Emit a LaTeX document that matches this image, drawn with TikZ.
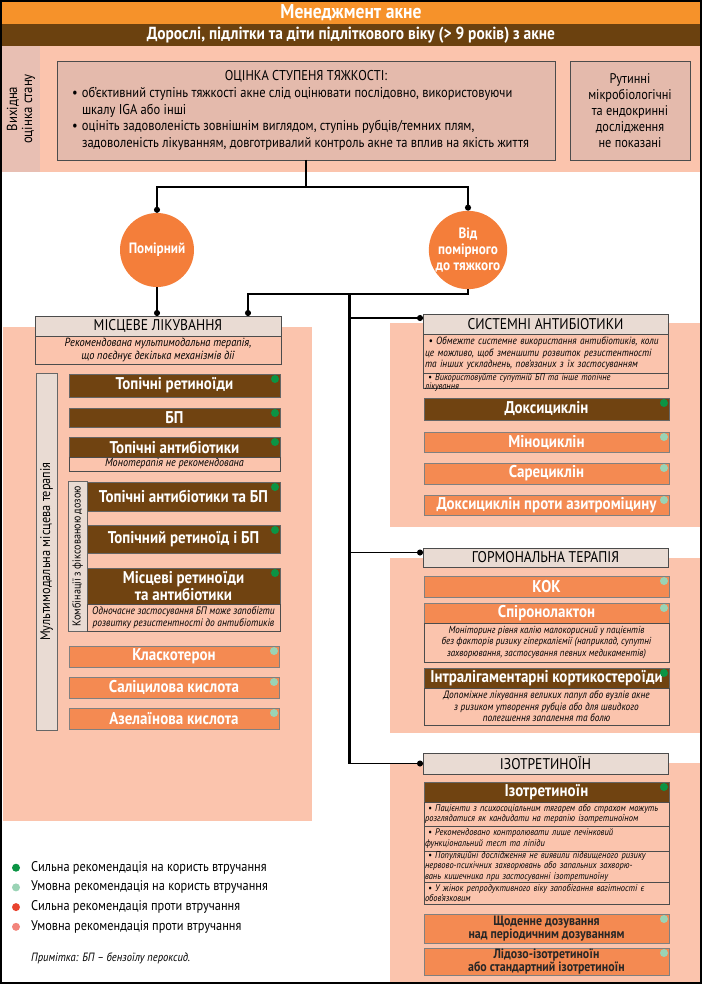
\documentclass[tikz,border=0pt]{standalone}
\usepackage{fontspec}
\setmainfont{PT Sans}[FakeStretch=0.88]
\usetikzlibrary{arrows.meta,positioning}

\definecolor{titleorange}{HTML}{F6922A}
\definecolor{titlebrown}{HTML}{6B410F}
\definecolor{pinkbg}{HTML}{FBC4AD}
\definecolor{dusty}{HTML}{E4BAAC}
\definecolor{stripgray}{HTML}{E8BFB3}
\definecolor{headgray}{HTML}{E9DBD3}
\definecolor{boxbrown}{HTML}{704311}
\definecolor{boxorange}{HTML}{F48A52}
\definecolor{circorange}{HTML}{F47E3A}
\definecolor{gstrong}{HTML}{0B9444}
\definecolor{gweak}{HTML}{9AD3B5}
\definecolor{rstrong}{HTML}{E8432E}
\definecolor{rweak}{HTML}{F2847B}

\newcommand{\fsz}[2]{\fontsize{#1}{#2}\selectfont}
\newcommand{\gradedot}[2]{\fill[#2] ([xshift=-5pt,yshift=-5pt]#1.north east) circle[radius=4pt];}
\newcommand{\bul}{\noindent\hspace*{15pt}\makebox[10pt][l]{•}}
\newcommand{\hang}{\hspace*{25pt}}

\tikzset{
  base/.style={anchor=north west, inner sep=0pt, outer sep=0pt, align=center},
  strongbox/.style={base, fill=boxbrown, draw=black!60, text=white, font=\bfseries\fsz{17}{17}},
  weakbox/.style={base, fill=boxorange, draw=black!50, text=white, font=\bfseries\fsz{17}{17}},
  headbox/.style={base, fill=headgray, draw=black!70, font=\fsz{15.5}{16}},
  notebox/.style={base, fill=pinkbg, draw=black!70, font=\itshape\fsz{10.5}{11.5}},
  assessbox/.style={base, fill=dusty, draw=black!70},
  sidebar/.style={base, fill=headgray, draw=black!60},
  stage/.style={circle, fill=circorange, text=white, font=\bfseries\fsz{15}{16},
    minimum size=74pt, inner sep=0pt, align=center},
  link/.style={line width=1.5pt},
  linkdot/.style={link, -{Circle[length=6pt]}},
}

\begin{document}
\begin{tikzpicture}[x=1pt,y=-1pt]
  \useasboundingbox (0,0) rectangle (702,984);

  % panels behind the groups
  \fill[pinkbg] (2,46) rectangle (700,172);
  \fill[pinkbg] (3,327) rectangle (312,821);
  \fill[pinkbg] (390,323) rectangle (700,527);
  \fill[pinkbg] (390,558) rectangle (700,733);
  \fill[pinkbg] (390,763) rectangle (700,982);

  \node[base, fill=titleorange, text=white, font=\bfseries\fsz{20}{20},
    minimum width=698, minimum height=22] (title) at (2,2) {Менеджмент акне};
  \node[base, fill=titlebrown, text=white, font=\bfseries\fsz{17.5}{18},
    minimum width=698, minimum height=22] (subtitle) at (2,24)
    {Дорослі, підлітки та діти підліткового віку (> 9 років) з акне};

  % initial assessment
  \node[base, fill=stripgray, rotate=90, anchor=center, minimum width=126,
    minimum height=38, font=\fsz{14.5}{15}] (baseline) at (21,109) {Вихідна\\оцінка стану};
  \node[assessbox, minimum width=498, minimum height=99, font=\fsz{14.2}{16.8}] (assess) at (57,61)
    {\begin{minipage}{498pt}\raggedright
     {\centering ОЦІНКА СТУПЕНЯ ТЯЖКОСТІ:\par}
     \bul об’єктивний ступінь тяжкості акне слід оцінювати послідовно, використовуючи\par
     \noindent\hang шкалу IGA або інші\par
     \bul оцініть задоволеність зовнішнім виглядом, ступінь рубців/темних плям,\par
     \noindent\hang задоволеність лікуванням, довготривалий контроль акне та вплив на якість життя\par
     \end{minipage}};
  \node[assessbox, minimum width=120, minimum height=99, font=\fsz{14}{16}] (routine) at (570,61)
    {Рутинні\\мікробіологічні\\та ендокринні\\дослідження\\не показані};

  % severity
  \node[stage] (mod) at (157,250) {Помірний};
  \node[stage] (sev) at (468,250) {Від\\помірного\\до тяжкого};

  % topical treatment
  \node[headbox, minimum width=246, minimum height=20] (loc) at (35,316) {МІСЦЕВЕ ЛІКУВАННЯ};
  \node[notebox, below=0pt of loc, minimum width=246, minimum height=28, font=\itshape\fsz{11.8}{12.5}] (locnote)
    {Рекомендована мультимодальна терапія,\\що поєднує декілька механізмів дії};
  \node[sidebar, rotate=90, anchor=center, minimum width=357, minimum height=21,
    font=\fsz{14}{14}] (multibar) at (46.5,551.5) {Мультимодальна місцева терапія};
  \node[strongbox, minimum width=211, minimum height=23] (topret) at (69,374) {Топічні ретиноїди};
  \node[strongbox, minimum width=211, minimum height=19] (bp) at (69,408) {БП};
  \node[strongbox, minimum width=211, minimum height=20] (topab) at (69,437) {Топічні антибіотики};
  \node[notebox, below=0pt of topab, minimum width=211, minimum height=14, font=\itshape\fsz{11.5}{12}] (topabnote)
    {Монотерапія не рекомендована};
  \node[sidebar, rotate=90, anchor=center, minimum width=150, minimum height=19,
    font=\fsz{11.5}{12}] (combobar) at (77.5,556) {Комбінації з фіксованою дозою};
  \node[strongbox, minimum width=193, minimum height=29] (abbp) at (87,482) {Топічні антибіотики та БП};
  \node[strongbox, minimum width=193, minimum height=28] (retbp) at (87,525) {Топічний ретиноїд і БП};
  \node[strongbox, minimum width=193, minimum height=36] (retab) at (87,568) {Місцеві ретиноїди\\та антибіотики};
  \node[notebox, below=0pt of retab, minimum width=193, minimum height=27, font=\itshape\fsz{10.8}{11.5}] (retabnote)
    {Одночасне застосування БП може запобігти\\розвитку резистентності до антибіотиків};
  \node[weakbox, minimum width=210, minimum height=21] (clasc) at (69,646) {Класкотерон};
  \node[weakbox, minimum width=210, minimum height=21] (salic) at (69,677) {Саліцилова кислота};
  \node[weakbox, minimum width=210, minimum height=21] (azel) at (69,708) {Азелаїнова кислота};

  % systemic antibiotics
  \node[headbox, minimum width=245, minimum height=20] (sys) at (423,314) {СИСТЕМНІ АНТИБІОТИКИ};
  \node[notebox, below=0pt of sys, minimum width=245, minimum height=39, text width=241,
    align=left, font=\itshape\fsz{10.5}{11.5}] (sysnote)
    {\ \textbullet\ Обмежте системне використання антибіотиків, коли\\це можливо, щоб зменшити розвиток резистентності\\та інших ускладнень, пов’язаних з їх застосуванням};
  \node[notebox, below=0pt of sysnote, minimum width=245, minimum height=15, text width=241,
    text height=7pt, text depth=8pt, align=left, font=\itshape\fsz{9.5}{9}] (sysnote2)
    {\ \textbullet\ Використовуйте супутній БП та інше топічне\\лікування};
  \node[strongbox, minimum width=245, minimum height=22] (doxy) at (424,398) {Доксициклін};
  \node[weakbox, minimum width=245, minimum height=20] (mino) at (424,432) {Міноциклін};
  \node[weakbox, minimum width=245, minimum height=21] (sare) at (424,463) {Сарециклін};
  \node[weakbox, minimum width=245, minimum height=20] (doxazi) at (424,495) {Доксициклін проти азитроміцину};

  % hormonal therapy
  \node[headbox, minimum width=245, minimum height=19] (horm) at (423,548) {ГОРМОНАЛЬНА ТЕРАПІЯ};
  \node[weakbox, minimum width=245, minimum height=21] (kok) at (424,576) {КОК};
  \node[weakbox, minimum width=245, minimum height=20] (spiro) at (424,603) {Спіронолактон};
  \node[notebox, below=0pt of spiro, minimum width=245, minimum height=39, font=\itshape\fsz{10.2}{11.5}] (spironote)
    {Моніторинг рівня калію малокорисний у пацієнтів\\без факторів ризику гіперкаліємії (наприклад, супутні\\захворювання, застосування певних медикаментів)};
  \node[strongbox, minimum width=245, minimum height=20] (ilc) at (424,668) {Інтралігаментарні кортикостероїди};
  \node[notebox, below=0pt of ilc, minimum width=245, minimum height=37, font=\itshape\fsz{10.6}{11.5}] (ilcnote)
    {Допоміжне лікування великих папул або вузлів акне\\з ризиком утворення рубців або для швидкого\\полегшення запалення та болю};

  % isotretinoin
  \node[headbox, minimum width=245, minimum height=21] (iso) at (423,753) {ІЗОТРЕТИНОЇН};
  \node[strongbox, minimum width=245, minimum height=20] (isob) at (424,782) {Ізотретиноїн};
  \node[notebox, below=0pt of isob, minimum width=245, minimum height=24, text width=243,
    align=left, font=\itshape\fsz{9.6}{10.5}] (isonote1)
    {\ \textbullet\ Пацієнти з психосоціальним тягарем або страхом можуть\\розглядатися як кандидати на терапію ізотретиноїном};
  \node[notebox, below=0pt of isonote1, minimum width=245, minimum height=25, text width=243,
    align=left, font=\itshape\fsz{9.6}{10.5}] (isonote2)
    {\ \textbullet\ Рекомендовано контролювати лише печінковий\\функціональний тест та ліпіди};
  \node[notebox, below=0pt of isonote2, minimum width=245, minimum height=31, text width=243,
    align=left, font=\itshape\fsz{9.6}{10.3}] (isonote3)
    {\ \textbullet\ Популяційні дослідження не виявили підвищеного ризику\\нервово-психічних захворювань або запальних захворю-\\вань кишечника при застосуванні ізотретиноїну};
  \node[notebox, below=0pt of isonote3, minimum width=245, minimum height=22, text width=243,
    align=left, font=\itshape\fsz{9.6}{10.5}] (isonote4)
    {\ \textbullet\ У жінок репродуктивного віку запобігання вагітності є\\обов’язковим};
  \node[weakbox, text=black!85, font=\bfseries\fsz{13.5}{13.5}, minimum width=245, minimum height=29] (daily) at (424,914)
    {Щоденне дозування\\над періодичним дозуванням};
  \node[weakbox, text=black!85, font=\bfseries\fsz{13.5}{13.5}, minimum width=245, minimum height=27] (lido) at (424,948)
    {Лідозо-ізотретиноїн\\або стандартний ізотретиноїн};

  % connectors
  \coordinate (split) at (assess.south |- 0,187);
  \coordinate (fork) at (349,294);
  \coordinate (locin) at (248,316);
  \coordinate (sysin) at ([yshift=6pt]sys.west);
  \coordinate (hormin) at ([yshift=5pt]horm.west);
  \draw[link] (assess.south) -- (split);
  \draw[linkdot] (split) -| (mod.north);
  \draw[linkdot] (split) -| (sev.north);
  \draw[linkdot] (mod.south) -- (mod.south |- loc.north);
  \draw[linkdot] (sev.south) |- (fork) -| (locin);
  \draw[line width=3pt] (fork) -- (fork |- iso.west);
  \draw[linkdot] (fork |- sysin) -- (sysin);
  \draw[linkdot] (fork |- hormin) -- (hormin);
  \draw[linkdot] (fork |- iso.west) -- (iso.west);

  % grade dots
  \foreach \n in {topret,bp,topab,abbp,retbp,retab,doxy,ilc,isob}
    {\gradedot{\n}{gstrong}}
  \foreach \n in {clasc,salic,azel,mino,sare,doxazi,kok,spiro,daily,lido}
    {\gradedot{\n}{gweak}}

  % legend
  \foreach \c/\t [count=\i] in {gstrong/Сильна рекомендація на користь втручання,
      gweak/Умовна рекомендація на користь втручання,
      rstrong/Сильна рекомендація проти втручання,
      rweak/Умовна рекомендація проти втручання}
  {
    \fill[\c] (16,{848+19.7*\i}) circle[radius=4pt];
    \node[anchor=west, inner sep=0pt, font=\fsz{14}{15}] (leg\i) at (31,{848+19.7*\i}) {\t};
  }
  \node[anchor=west, inner sep=0pt, font=\itshape\fsz{12}{13}] (remark) at (31,958)
    {Примітка: БП – бензоїлу пероксид.};

  \draw[line width=1.5pt] (1,1) rectangle (701,983);
\end{tikzpicture}
\end{document}
